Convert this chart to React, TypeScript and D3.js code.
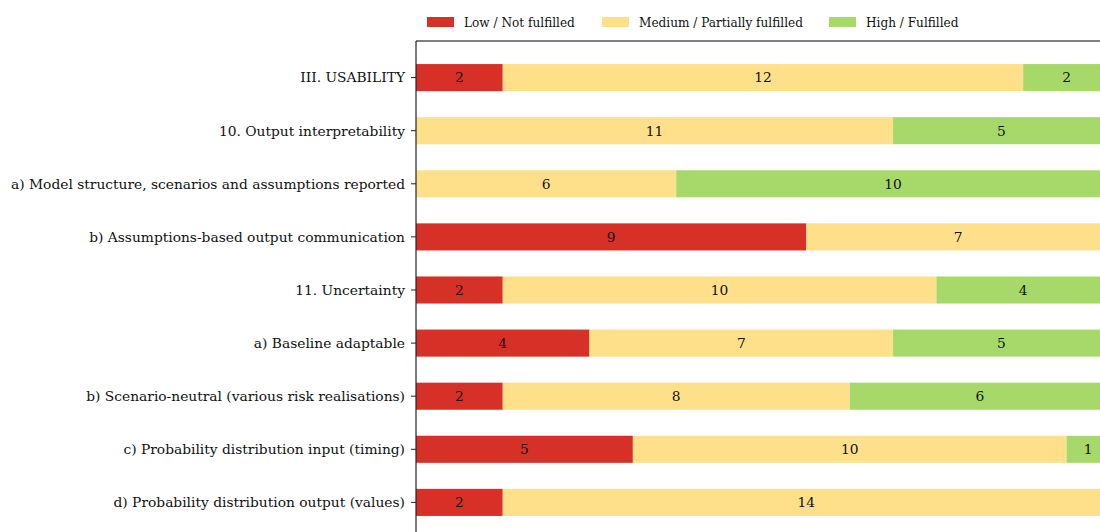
import React from "react";
import * as d3 from "d3";

const categories = [
  "III. USABILITY",
  "10. Output interpretability",
  "a) Model structure, scenarios and assumptions reported",
  "b) Assumptions-based output communication",
  "11. Uncertainty",
  "a) Baseline adaptable",
  "b) Scenario-neutral (various risk realisations)",
  "c) Probability distribution input (timing)",
  "d) Probability distribution output (values)",
];
const lowValues = [2, 0, 0, 9, 2, 4, 2, 5, 2];
const mediumValues = [12, 11, 6, 7, 10, 7, 8, 10, 14];
const highValues = [2, 5, 10, 0, 4, 5, 6, 1, 0];
const seriesNames = ["Low / Not fulfilled", "Medium / Partially fulfilled", "High / Fulfilled"];
const seriesColors = ["#d73027", "#fee08b", "#a6d96a"];

const W = 1100;
const H = 532;
const FONT = "'DejaVu Serif', 'Liberation Serif', serif";

export default function App() {
  const left = 416;
  const top = 41;
  const unit = 43.37;
  const x = d3.scaleLinear().domain([0, 16]).range([left, left + 16 * unit]);
  const step = 53.1;
  const y0 = 77.6 - step / 2;
  const y = d3
    .scaleBand<string>()
    .domain(categories)
    .range([y0, y0 + categories.length * step])
    .paddingInner(0.49)
    .paddingOuter(0.245);

  const rows = categories.map((c, i) => ({
    cat: c,
    vals: [lowValues[i], mediumValues[i], highValues[i]],
  }));
  const stack = d3.stack<any>().keys(["0", "1", "2"])(
    rows.map((r) => ({ cat: r.cat, "0": r.vals[0], "1": r.vals[1], "2": r.vals[2] }))
  );

  const legendX = [427, 602, 829];

  return (
    <div style={{ position: "fixed", left: 0, top: 0, width: W, height: H, overflow: "hidden", background: "#fff" }}>
      <svg width={W} height={H} style={{ display: "block" }} fontFamily={FONT}>
        {stack.map((layer, si) => (
          <g key={si}>
            {layer.map((d, ri) => {
              const v = d[1] - d[0];
              if (v <= 0) return null;
              const x0 = x(d[0]);
              const x1 = x(d[1]);
              const yy = y(categories[ri])!;
              return (
                <g key={ri}>
                  <rect x={x0} y={yy} width={x1 - x0} height={y.bandwidth()} fill={seriesColors[si]} />
                  <text
                    x={(x0 + x1) / 2}
                    y={yy + y.bandwidth() / 2}
                    dy="0.35em"
                    textAnchor="middle"
                    fontSize={13.8}
                    fill="#111"
                  >
                    {v}
                  </text>
                </g>
              );
            })}
          </g>
        ))}
        <line x1={left} x2={W} y1={top} y2={top} stroke="#000" strokeWidth={1.2} />
        <line x1={left} x2={left} y1={top} y2={H} stroke="#222" strokeWidth={1.2} />
        {categories.map((c) => {
          const cy = y(c)! + y.bandwidth() / 2;
          return (
            <g key={c}>
              <line x1={left - 5} x2={left} y1={cy} y2={cy} stroke="#222" strokeWidth={1} />
              <text x={left - 11} y={cy} dy="0.35em" textAnchor="end" fontSize={13.8} fill="#111">
                {c}
              </text>
            </g>
          );
        })}
        {seriesNames.map((n, i) => (
          <g key={n}>
            <rect x={legendX[i]} y={17} width={27} height={10} fill={seriesColors[i]} />
            <text x={legendX[i] + 37} y={22.5} dy="0.35em" fontSize={12.1} fill="#111">
              {n}
            </text>
          </g>
        ))}
      </svg>
    </div>
  );
}
